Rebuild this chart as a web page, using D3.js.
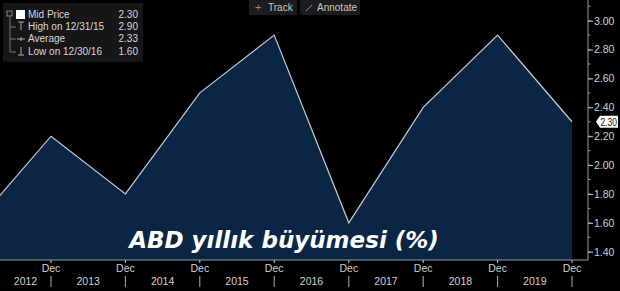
<!DOCTYPE html>
<html>
<head>
<meta charset="utf-8">
<script src="https://cdn.jsdelivr.net/npm/d3@7"></script>
<style>
  body { margin: 0; background: #000; }
  svg { display: block; }
</style>
</head>
<body>
<div id="chart"></div>
<script>
// yearly values (Dec 2011 sits just off the left edge)
const years = [2011, 2012, 2013, 2014, 2015, 2016, 2017, 2018, 2019];
const growth = [1.60, 2.20, 1.80, 2.50, 2.90, 1.60, 2.40, 2.90, 2.30];
const yTicks = [1.40, 1.60, 1.80, 2.00, 2.20, 2.40, 2.60, 2.80, 3.00];
const yearLabels = [2012, 2013, 2014, 2015, 2016, 2017, 2018, 2019];
const legendRows = [
  { label: "Mid Price", value: "2.30" },
  { label: "High on 12/31/15", value: "2.90" },
  { label: "Average", value: "2.33" },
  { label: "Low on 12/30/16", value: "1.60" }
];

const width = 620;
const height = 291;
const plotRight = 588;
const plotBottom = 260;

const data = years.map((yr, i) => ({ date: new Date(Date.UTC(yr, 11, 31)), value: growth[i] }));

const svg = d3.select("#chart").append("svg")
  .attr("width", width)
  .attr("height", height)
  .style("font-family", "'Liberation Sans', Arial, sans-serif");

svg.append("rect").attr("width", width).attr("height", height).attr("fill", "#000");

const x = d3.scaleUtc()
  .domain([new Date(Date.UTC(2012, 11, 31)), new Date(Date.UTC(2019, 11, 31))])
  .range([51, 572]);

const y = d3.scaleLinear()
  .domain([1.40, 3.00])
  .range([251.7, 20.7]);

svg.append("clipPath").attr("id", "plot-clip")
  .append("rect").attr("x", 0).attr("y", 0).attr("width", plotRight).attr("height", plotBottom);

const plot = svg.append("g").attr("clip-path", "url(#plot-clip)");

// area + line
const area = d3.area()
  .x(d => x(d.date))
  .y0(plotBottom)
  .y1(d => y(d.value));

const line = d3.line()
  .x(d => x(d.date))
  .y(d => y(d.value));

plot.append("path")
  .datum(data)
  .attr("d", area)
  .attr("fill", "#0b2545");

plot.append("path")
  .datum(data)
  .attr("d", line)
  .attr("fill", "none")
  .attr("stroke", "#c9ccd4")
  .attr("stroke-width", 1.2);

// title
svg.append("text")
  .attr("x", 284)
  .attr("y", 248)
  .attr("text-anchor", "middle")
  .attr("fill", "#fff")
  .style("font-family", "'DejaVu Sans', Verdana, sans-serif")
  .style("font-weight", "bold")
  .style("font-style", "italic")
  .style("font-size", "23px")
  .text("ABD yıllık büyümesi (%)");

// right axis
const yAxis = svg.append("g")
  .attr("transform", `translate(${plotRight},0)`);

const minorTicks = d3.range(1.30, 3.15, 0.1).filter(v => y(v) > 2 && y(v) < plotBottom);
yAxis.selectAll("line.minor")
  .data(minorTicks)
  .enter().append("line")
  .attr("x1", 0).attr("x2", 2.5)
  .attr("y1", d => y(d)).attr("y2", d => y(d))
  .attr("stroke", "#9a9a9a");

yAxis.call(d3.axisRight(y).tickValues(yTicks).tickFormat(d3.format(".2f")).tickSize(5).tickPadding(1))
  .call(g => g.select(".domain").remove())
  .call(g => g.selectAll(".tick line").attr("stroke", "#c8c8c8"))
  .call(g => g.selectAll(".tick text")
    .attr("fill", "#d0d0d0")
    .style("font-size", "10.5px")
    .style("font-family", "'Liberation Sans', Arial, sans-serif"));

svg.append("line")
  .attr("x1", plotRight).attr("x2", plotRight)
  .attr("y1", 0).attr("y2", plotBottom)
  .attr("stroke", "#9a9a9a");

// last value tag
const lastVal = growth[growth.length - 1];
const tagY = y(lastVal);
svg.append("path")
  .attr("d", `M${plotRight + 8},${tagY} L${plotRight + 12},${tagY - 6} L${plotRight + 30},${tagY - 6} L${plotRight + 30},${tagY + 6} L${plotRight + 12},${tagY + 6} Z`)
  .attr("fill", "#fff");
svg.append("text")
  .attr("x", plotRight + 12.5)
  .attr("y", tagY + 4)
  .attr("fill", "#111")
  .attr("textLength", 16.5)
  .attr("lengthAdjust", "spacingAndGlyphs")
  .style("font-size", "10.5px")
  .text(d3.format(".2f")(lastVal));

// bottom axis
svg.append("line")
  .attr("x1", 0).attr("x2", plotRight)
  .attr("y1", plotBottom).attr("y2", plotBottom)
  .attr("stroke", "#9a9a9a");

const decDates = data.filter(d => d.date >= x.domain()[0]).map(d => d.date);
const xAxis = svg.append("g");

xAxis.selectAll("line.top")
  .data(decDates)
  .enter().append("line")
  .attr("x1", d => x(d)).attr("x2", d => x(d))
  .attr("y1", plotBottom).attr("y2", plotBottom + 3)
  .attr("stroke", "#c8c8c8");

xAxis.selectAll("line.sep")
  .data(decDates)
  .enter().append("line")
  .attr("x1", d => x(d)).attr("x2", d => x(d))
  .attr("y1", 276).attr("y2", 287)
  .attr("stroke", "#b0b0b0");

xAxis.selectAll("text.dec")
  .data(decDates)
  .enter().append("text")
  .attr("x", d => x(d))
  .attr("y", 272)
  .attr("text-anchor", "middle")
  .attr("fill", "#d0d0d0")
  .style("font-size", "10.5px")
  .text("Dec");

xAxis.selectAll("text.year")
  .data(yearLabels)
  .enter().append("text")
  .attr("x", yr => {
    const a = Math.max(0, x(new Date(Date.UTC(yr - 1, 11, 31))));
    const b = Math.min(plotRight, x(new Date(Date.UTC(yr, 11, 31))));
    return (a + b) / 2;
  })
  .attr("y", 285)
  .attr("text-anchor", "middle")
  .attr("fill", "#d0d0d0")
  .style("font-size", "10.5px")
  .text(d => d);

// Track / Annotate buttons
const tools = svg.append("g");
tools.append("rect").attr("x", 249).attr("y", 0).attr("width", 48).attr("height", 15).attr("fill", "#1c1c1c");
tools.append("rect").attr("x", 300).attr("y", 0).attr("width", 60).attr("height", 15).attr("fill", "#1c1c1c");
tools.append("text").attr("x", 255).attr("y", 11).attr("fill", "#8a8a8a").style("font-size", "11px").text("+");
tools.append("text").attr("x", 268).attr("y", 11).attr("fill", "#c8c8c8").style("font-size", "10px").text("Track");
tools.append("line").attr("x1", 306).attr("x2", 312).attr("y1", 11).attr("y2", 5).attr("stroke", "#8a8a8a");
tools.append("text").attr("x", 317).attr("y", 11).attr("fill", "#c8c8c8").style("font-size", "10px").text("Annotate");

// legend
const legend = svg.append("g");
legend.append("rect")
  .attr("x", 3).attr("y", 3).attr("width", 140).attr("height", 59)
  .attr("fill", "#161616");

legend.append("rect").attr("x", 7).attr("y", 11).attr("width", 5).attr("height", 5)
  .attr("fill", "none").attr("stroke", "#888");
legend.append("rect").attr("x", 16).attr("y", 10).attr("width", 9).attr("height", 9).attr("fill", "#fff");
legend.append("line").attr("x1", 10).attr("x2", 10).attr("y1", 17).attr("y2", 52).attr("stroke", "#777");

const rowY = [18, 30, 42, 55];
legendRows.forEach((r, i) => {
  if (i > 0) {
    legend.append("line").attr("x1", 10).attr("x2", 16).attr("y1", rowY[i] - 3).attr("y2", rowY[i] - 3).attr("stroke", "#777");
    const cx = 21;
    const g = legend.append("g").attr("stroke", "#aaa");
    if (i === 1) {
      g.append("line").attr("x1", cx - 3).attr("x2", cx + 3).attr("y1", rowY[i] - 8).attr("y2", rowY[i] - 8);
      g.append("line").attr("x1", cx).attr("x2", cx).attr("y1", rowY[i] - 8).attr("y2", rowY[i]);
    } else if (i === 2) {
      g.append("line").attr("x1", cx - 4).attr("x2", cx + 4).attr("y1", rowY[i] - 3).attr("y2", rowY[i] - 3);
      g.append("line").attr("x1", cx).attr("x2", cx).attr("y1", rowY[i] - 5).attr("y2", rowY[i] - 1);
    } else {
      g.append("line").attr("x1", cx).attr("x2", cx).attr("y1", rowY[i] - 8).attr("y2", rowY[i]);
      g.append("line").attr("x1", cx - 3).attr("x2", cx + 3).attr("y1", rowY[i]).attr("y2", rowY[i]);
    }
  }
  legend.append("text")
    .attr("x", 28).attr("y", rowY[i])
    .attr("fill", "#d8d8d8")
    .style("font-size", "10px")
    .text(r.label);
  legend.append("text")
    .attr("x", 138).attr("y", rowY[i])
    .attr("text-anchor", "end")
    .attr("fill", "#d8d8d8")
    .style("font-size", "10px")
    .text(r.value);
});
</script>
</body>
</html>
